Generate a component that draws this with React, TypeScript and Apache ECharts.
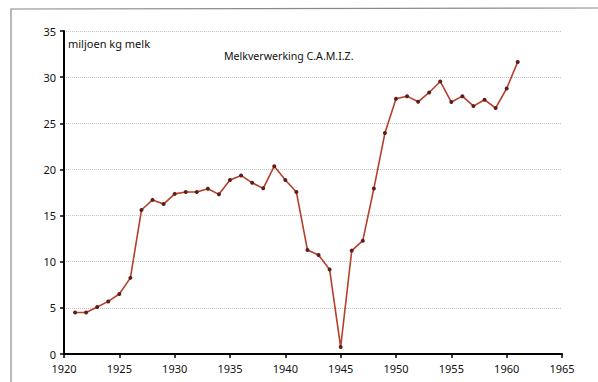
import React, { useEffect, useRef } from "react";
import * as echarts from "echarts";

const years = [
  1921, 1922, 1923, 1924, 1925, 1926, 1927, 1928, 1929, 1930,
  1931, 1932, 1933, 1934, 1935, 1936, 1937, 1938, 1939, 1940,
  1941, 1942, 1943, 1944, 1945, 1946, 1947, 1948, 1949, 1950,
  1951, 1952, 1953, 1954, 1955, 1956, 1957, 1958, 1959, 1960, 1961,
];
const milk = [
  4.5, 4.5, 5.1, 5.7, 6.5, 8.25, 15.6, 16.7, 16.25, 17.35,
  17.55, 17.55, 17.9, 17.3, 18.85, 19.35, 18.55, 17.95, 20.35, 18.85,
  17.55, 11.27, 10.73, 9.15, 0.75, 11.2, 12.28, 17.93, 23.95, 27.65,
  27.94, 27.33, 28.34, 29.53, 27.3, 27.94, 26.86, 27.55, 26.65, 28.77, 31.65,
];
const unitLabel = "miljoen kg melk";
const chartTitle = "Melkverwerking C.A.M.I.Z.";

const FONT = "'Noto Sans', 'Open Sans', sans-serif";

export default function App() {
  const ref = useRef<HTMLDivElement>(null);
  useEffect(() => {
    if (!ref.current) return;
    const chart = echarts.init(ref.current, undefined, { renderer: "svg" });
    chart.setOption({
      animation: false,
      backgroundColor: "#ffffff",
      grid: { left: 64, right: 36, top: 31, bottom: 28, containLabel: false },
      graphic: [
        {
          type: "polyline",
          shape: { points: [[11, 382], [11, 9], [598, 8]] },
          style: { stroke: "#8a8a8a", lineWidth: 1.2, fill: "none" },
          silent: true,
        },
        {
          type: "text",
          left: 68,
          top: 38,
          style: { text: unitLabel, font: `11px ${FONT}`, fill: "#111" },
        },
        {
          type: "text",
          left: 224,
          top: 50,
          style: { text: chartTitle, font: `10.6px ${FONT}`, fill: "#111" },
        },
      ],
      xAxis: {
        type: "value",
        min: 1920,
        max: 1965,
        interval: 5,
        axisLine: { show: true, onZero: false, lineStyle: { color: "#000", width: 2 } },
        axisTick: { show: true, length: 4, lineStyle: { color: "#000", width: 1.5 } },
        axisLabel: {
          color: "#111",
          fontFamily: FONT,
          fontSize: 11,
          lineHeight: 12,
          margin: 8,
          formatter: (v: number) => String(v),
        },
        splitLine: { show: false },
      },
      yAxis: {
        type: "value",
        min: 0,
        max: 35,
        interval: 5,
        axisLine: { show: true, lineStyle: { color: "#000", width: 2 } },
        axisTick: { show: true, length: 4, lineStyle: { color: "#000", width: 1.5 } },
        axisLabel: { color: "#111", fontFamily: FONT, fontSize: 11, lineHeight: 12, margin: 8 },
        splitLine: { show: true, lineStyle: { color: "#c4c4c4", type: "dotted", width: 1 } },
      },
      series: [
        {
          type: "line",
          data: years.map((y, i) => [y, milk[i]]),
          symbol: "circle",
          symbolSize: 4,
          showAllSymbol: true,
          lineStyle: { color: "#b5402b", width: 1.6 },
          itemStyle: { color: "#5e1d1d", borderColor: "#5e1d1d", borderWidth: 0 },
        },
      ],
    });
    return () => chart.dispose();
  }, []);
  return <div ref={ref} style={{ width: 598, height: 382, position: "absolute", left: 0, top: 0 }} />;
}
